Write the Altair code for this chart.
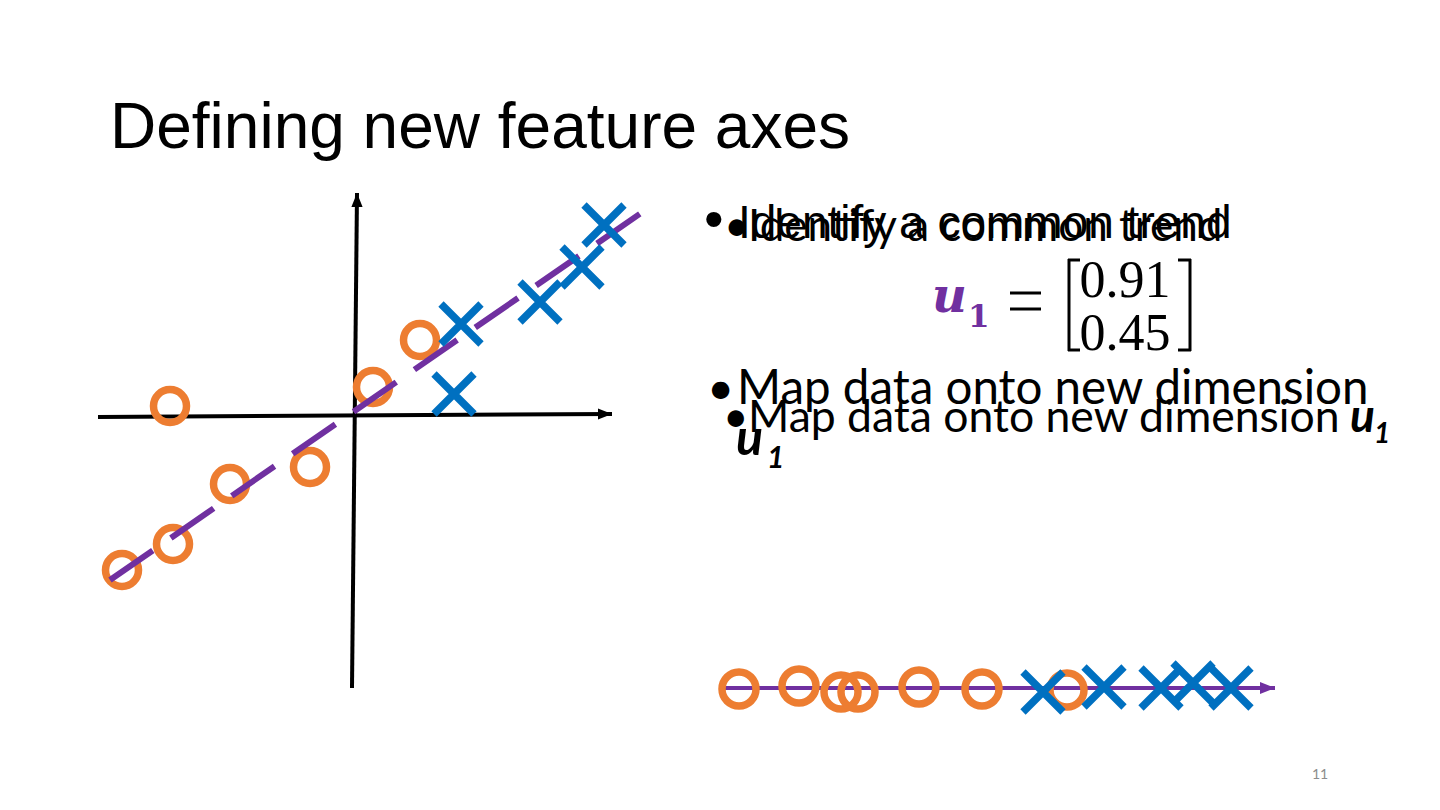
import altair as alt
import pandas as pd

# ---------------- data (feature-space units) ----------------
circle_x1 = [-3.70, 0.36, 1.30, -0.90, -2.50, -3.64, -4.66]
circle_x2 = [0.20, 0.58, 1.52, -1.02, -1.36, -2.56, -3.08]
cross_x1 = [2.12, 1.98, 3.70, 4.54, 4.98]
cross_x2 = [1.84, 0.44, 2.28, 2.98, 3.82]
trend_x1 = [-4.90, 5.72]
trend_x2 = [-3.28, 4.06]
# axes of the feature plot (start/end)
haxis_x = [-5.14, 5.14]
haxis_y = [-0.02, 0.04]
vaxis_x = [-0.06, 0.04]
vaxis_y = [-5.44, 4.46]
# projection onto u1 (drawn below, same units)
proj_circle_x = [7.68, 8.88, 9.72, 10.06, 11.28, 12.54, 14.24]
proj_circle_y = [-5.46, -5.40, -5.52, -5.52, -5.42, -5.46, -5.48]
proj_cross_x = [13.76, 14.98, 16.12, 16.76, 17.52]
proj_cross_y = [-5.52, -5.42, -5.44, -5.34, -5.44]
proj_axis_x = [7.34, 18.40]
proj_axis_y = [-5.44, -5.44]

u1_vec = ["0.91", "0.45"]

ORANGE = "#ED7D31"
BLUE = "#0070C0"
PURPLE = "#7030A0"

W, H = 1424, 790
XS = alt.Scale(domain=[-6.94, 21.54], nice=False, zero=False)
YS = alt.Scale(domain=[-7.64, 8.16], nice=False, zero=False)


def X(f):
    return alt.X(f, type="quantitative", scale=XS, axis=None)


def Y(f):
    return alt.Y(f, type="quantitative", scale=YS, axis=None)


CROSS = "M-1,-1L1,1M-1,1L1,-1"
ARROW_R = "M0,0L-2,-0.8L-2,0.8Z"
ARROW_U = "M0,0L-0.8,2L0.8,2Z"

layers = []

# feature axes
ax_df = pd.DataFrame({"x": [haxis_x[0], vaxis_x[0]], "y": [haxis_y[0], vaxis_y[0]],
                      "x2": [haxis_x[1], vaxis_x[1]], "y2": [haxis_y[1], vaxis_y[1]]})
layers.append(alt.Chart(ax_df).mark_rule(color="black", strokeWidth=4).encode(
    x=X("x"), y=Y("y"), x2="x2:Q", y2="y2:Q"))
layers.append(alt.Chart(pd.DataFrame({"x": [haxis_x[1]], "y": [haxis_y[1]]})).mark_point(
    shape=ARROW_R, filled=True, color="black", size=196, opacity=1).encode(x=X("x"), y=Y("y")))
layers.append(alt.Chart(pd.DataFrame({"x": [vaxis_x[1]], "y": [vaxis_y[1]]})).mark_point(
    shape=ARROW_U, filled=True, color="black", size=196, opacity=1).encode(x=X("x"), y=Y("y")))

# circles
layers.append(alt.Chart(pd.DataFrame({"x": circle_x1, "y": circle_x2})).mark_point(
    shape="circle", filled=False, color=ORANGE, strokeWidth=7.5, size=1089, opacity=1).encode(
    x=X("x"), y=Y("y")))
# trend line
layers.append(alt.Chart(pd.DataFrame({"x": trend_x1, "y": trend_x2})).mark_line(
    color=PURPLE, strokeWidth=6, strokeDash=[52, 22]).encode(x=X("x"), y=Y("y")))
# crosses
layers.append(alt.Chart(pd.DataFrame({"x": cross_x1, "y": cross_x2})).mark_point(
    shape=CROSS, filled=False, color=BLUE, strokeWidth=7.5, size=1600, opacity=1).encode(
    x=X("x"), y=Y("y")))

# projection axis
layers.append(alt.Chart(pd.DataFrame({"x": proj_axis_x, "y": proj_axis_y})).mark_line(
    color=PURPLE, strokeWidth=4).encode(x=X("x"), y=Y("y")))
layers.append(alt.Chart(pd.DataFrame({"x": [proj_axis_x[1]], "y": [proj_axis_y[1]]})).mark_point(
    shape=ARROW_R, filled=True, color=PURPLE, size=225, opacity=1).encode(x=X("x"), y=Y("y")))
layers.append(alt.Chart(pd.DataFrame({"x": proj_circle_x, "y": proj_circle_y})).mark_point(
    shape="circle", filled=False, color=ORANGE, strokeWidth=7.5, size=1156, opacity=1).encode(
    x=X("x"), y=Y("y")))
layers.append(alt.Chart(pd.DataFrame({"x": proj_cross_x, "y": proj_cross_y})).mark_point(
    shape=CROSS, filled=False, color=BLUE, strokeWidth=7.5, size=1600, opacity=1).encode(
    x=X("x"), y=Y("y")))


def txt(s, x, y, size, font="Liberation Sans", color="black", weight="normal",
        style="normal", align="left"):
    return alt.Chart(pd.DataFrame({"t": [s]})).mark_text(
        font=font, fontSize=size, color=color, fontWeight=weight, fontStyle=style,
        align=align, baseline="alphabetic").encode(
        x=alt.value(x - 8), y=alt.value(y - 8), text="t:N")


def rule(x1, y1, x2, y2, width=2.5):
    return alt.Chart(pd.DataFrame({"a": [0]})).mark_rule(color="black", strokeWidth=width).encode(
        x=alt.value(x1 - 8), x2=alt.value(x2 - 8), y=alt.value(y1 - 8), y2=alt.value(y2 - 8))


SANS2 = "Lato"
SERIF = "DejaVu Serif"

# title
layers.append(txt("Defining new feature axes", 110, 148, 64))
# first bullet (two overlapping renderings)
layers.append(txt("•", 704, 238, 56))
layers.append(txt("Identify a common trend", 738, 238, 46))
layers.append(txt("•", 724, 241, 44, font=SANS2))
layers.append(txt("Identify a common trend", 748, 241, 44, font=SANS2))
# equation
layers.append(txt("u", 932, 312, 48, font=SERIF, color=PURPLE, weight="bold", style="italic"))
layers.append(txt("1", 968, 327, 31, font=SERIF, color=PURPLE, weight="bold"))
layers.append(rule(1010, 293, 1041, 293, 3))
layers.append(rule(1010, 309, 1041, 309, 3))
layers.append(txt(u1_vec[0], 1125, 297, 52, font="Liberation Serif", align="center"))
layers.append(txt(u1_vec[1], 1125, 350, 52, font="Liberation Serif", align="center"))
# brackets
for (x1, y1, x2, y2) in [(1069, 259, 1069, 351), (1068, 260, 1080, 260), (1068, 350, 1080, 350),
                         (1190, 259, 1190, 351), (1178, 260, 1191, 260), (1178, 350, 1191, 350)]:
    layers.append(rule(x1, y1, x2, y2, 3))
# second bullet (two overlapping renderings)
layers.append(txt("•", 707, 404, 47, font=SANS2))
layers.append(txt("Map data onto new dimension", 737, 404, 47.5, font=SANS2))
layers.append(txt("u", 736, 455, 50, font=SANS2, weight="bold", style="italic"))
layers.append(txt("1", 767, 468, 30, font=SANS2, weight="bold", style="italic"))
layers.append(txt("•", 723, 432, 44, font=SANS2))
layers.append(txt("Map data onto new dimension", 748, 432, 44.5, font=SANS2))
layers.append(txt("u", 1350, 432, 46, font=SANS2, weight="bold", style="italic"))
layers.append(txt("1", 1374, 443, 28, font=SANS2, weight="bold", style="italic"))
# page number
layers.append(txt("11", 1320, 779, 14, font=SANS2, color="#8C8C8C", align="center"))

chart = alt.layer(*layers).properties(
    width=W, height=H, autosize=alt.AutoSizeParams(type="none"), padding=0,
    background="white"
).configure_view(stroke=None)

chart.save("out.html", embed_options={"renderer": "svg", "actions": False})
